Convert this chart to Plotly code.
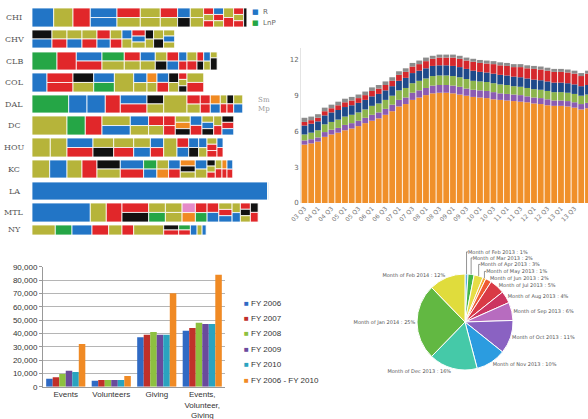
import plotly.graph_objects as go

W, H = 588, 419

# ---------------- Club roster treemaps ----------------
teams = ["CHI", "CHV", "CLB", "COL", "DAL", "DC", "HOU", "KC", "LA", "MTL", "NY"]

# each club: list of columns, each column a list of (group, amount) tiles stacked top-to-bottom
CHI = [[("B", 21.7)], [("O", 19.3)], [("R", 17.3)], [("B", 13.4), ("B", 13.3)],
       [("R", 11.7), ("O", 11.6)], [("O", 10), ("O", 10)], [("R", 8.7), ("O", 8.6)],
       [("B", 6.4), ("K", 6.3)], [("O", 6.7), ("O", 6.6)], [("R", 3.4), ("O", 3.3), ("R", 3.3)],
       [("B", 3.4), ("R", 3.3), ("O", 3.3)], [("O", 5), ("R", 5)],
       [("R", 3.4), ("O", 3.3), ("R", 3.3)], [("K", 3.3)]]
CHV = [[("K", 10), ("B", 10)], [("O", 7.5), ("R", 7.5)], [("O", 7.5), ("B", 7.5)],
       [("O", 7.5), ("R", 7.5)], [("R", 6.7), ("B", 6.6)], [("O", 5.9), ("R", 5.8)],
       [("B", 5), ("O", 5)], [("R", 4.5), ("B", 4.4), ("O", 4.4)], [("K", 4.2), ("O", 4.1)],
       [("O", 5), ("K", 5)], [("O", 3.7), ("B", 3.7), ("O", 3.6)]]
CLB = [[("G", 25)], [("R", 19.3)], [("B", 12.9), ("R", 12.8)], [("G", 11.2), ("O", 11.1)],
       [("R", 8), ("O", 8)], [("B", 7.5), ("O", 7.5)], [("O", 5.9), ("K", 5.8)],
       [("R", 5.9), ("B", 5.8)], [("B", 4.2), ("R", 4.1)], [("O", 5), ("R", 5)],
       [("R", 3.4), ("K", 3.3)], [("B", 3.4), ("O", 3.3)], [("O", 2.2), ("K", 4.5)]]
COL = [[("B", 15)], [("R", 13), ("R", 13)], [("K", 10.3), ("O", 10.4)], [("B", 10.3), ("G", 10.4)],
       [("O", 19.3)], [("B", 6.7), ("O", 6.6)], [("A", 5), ("O", 5)], [("B", 5.8), ("R", 5.9)],
       [("K", 5), ("O", 5)], [("R", 2.8), ("O", 2.8), ("K", 2.7)], [("O", 8.3), ("R", 8.4)]]
DAL = [[("G", 36.7)], [("B", 18.3)], [("B", 18.3)], [("R", 15)], [("B", 13.3), ("R", 13.4)],
       [("K", 8.3), ("O", 8.4)], [("O", 23.3)], [("R", 6.7), ("O", 6.6)], [("R", 5), ("R", 5)],
       [("A", 5), ("B", 5)], [("O", 3.3), ("R", 3.4)], [("K", 3.3), ("R", 3.4)], [("O", 4.5), ("B", 4.5)]]
DC = [[("O", 35)], [("G", 18.3)], [("R", 16.7)], [("O", 14.2), ("B", 14.1)], [("B", 9.2), ("O", 9.1)],
      [("R", 7.5), ("O", 7.5)], [("R", 5.9), ("R", 5.8)], [("O", 5), ("A", 5), ("K", 5)],
      [("B", 5.8), ("R", 5.9)], [("O", 3.9), ("B", 3.9), ("K", 3.9)], [("O", 4.2), ("R", 4.1)],
      [("K", 3.9), ("R", 3.9), ("B", 3.9)]]
HOU = [[("O", 18.3)], [("O", 16.7)], [("B", 13), ("R", 13)], [("O", 10.3), ("K", 10.4)],
       [("O", 10), ("R", 10)], [("O", 8.3), ("B", 8.4)], [("B", 6.7), ("R", 6.6)], [("O", 13.3)],
       [("R", 5.8), ("B", 5.9)], [("B", 5), ("K", 5)], [("B", 4.2), ("O", 4.1)],
       [("O", 3.3), ("R", 3.3), ("R", 3.4)], [("B", 3), ("R", 3)]]
KC = [[("O", 17.7)], [("B", 17.3)], [("O", 15)], [("R", 15)], [("K", 11.7), ("O", 11.6)],
      [("B", 11.7), ("R", 11.6)], [("G", 6.7), ("B", 6.6)], [("O", 5.9), ("A", 5.8)],
      [("B", 5.9), ("R", 5.8)], [("A", 5), ("K", 5), ("O", 5)], [("B", 5.9), ("O", 5.8)],
      [("K", 2.8), ("O", 2.8), ("R", 2.7)], [("O", 3.3), ("R", 3.4)], [("A", 2.5), ("R", 2.5)],
      [("B", 2.9), ("R", 2.8)]]
LA = [[("B", 235.5)], [("O", 0.6)], [("B", 0.6)]]
MTL = [[("B", 58.3)], [("O", 16)], [("R", 15.7)], [("R", 13.3), ("K", 13.4)], [("O", 8.3), ("G", 8.4)],
       [("O", 8.3), ("O", 8.4)], [("P", 6.7), ("A", 6.6)], [("R", 5.9), ("G", 5.8)],
       [("R", 5.8), ("B", 5.9)], [("O", 4.5), ("R", 4.4), ("B", 4.4)], [("O", 4.2), ("B", 4.1)],
       [("R", 3.3), ("K", 3.4), ("O", 3.3)], [("K", 3.8), ("R", 3.9)]]
NY = [[("O", 23.3)], [("G", 16.7)], [("B", 20)], [("R", 16.7)], [("O", 13.3)], [("R", 11.7)],
      [("O", 30)], [("K", 7.5), ("R", 7.5)], [("G", 5.8), ("R", 5.9)], [("B", 6.7)], [("O", 5)], [("B", 4)]]
rosters = [CHI, CHV, CLB, COL, DAL, DC, HOU, KC, LA, MTL, NY]

legend_groups = ["R", "LnP"]

# ---------------- Quarterly stacked bars ----------------
quarters = ["03 Q3", "03 Q4", "04 Q1", "04 Q2", "04 Q3", "04 Q4", "05 Q1", "05 Q2", "05 Q3", "05 Q4",
            "06 Q1", "06 Q2", "06 Q3", "06 Q4", "07 Q1", "07 Q2", "07 Q3", "07 Q4", "08 Q1", "08 Q2",
            "08 Q3", "08 Q4", "09 Q1", "09 Q2", "09 Q3", "09 Q4", "10 Q1", "10 Q2", "10 Q3", "10 Q4",
            "11 Q1", "11 Q2", "11 Q3", "11 Q4", "12 Q1", "12 Q2", "12 Q3", "12 Q4", "13 Q1", "13 Q2",
            "13 Q3", "13 Q4", "14 Q1"]
layer_orange = [4.9, 5.0, 5.15, 5.55, 5.75, 5.9, 6.1, 6.25, 6.45, 6.7, 6.9, 7.1, 7.4, 7.7, 8.1, 8.3,
                8.65, 8.85, 9.05, 9.2, 9.25, 9.25, 9.2, 9.1, 9.0, 8.9, 8.85, 8.8, 8.7, 8.65, 8.6, 8.55,
                8.5, 8.45, 8.35, 8.3, 8.2, 8.15, 8.15, 8.1, 8.0, 7.85, 7.95]
layer_purple = [0.35, 0.35, 0.35, 0.4, 0.4, 0.4, 0.45, 0.45, 0.45, 0.45, 0.5, 0.5, 0.5, 0.55, 0.55,
                0.55, 0.6, 0.6, 0.6, 0.65, 0.65, 0.65, 0.65, 0.65, 0.6, 0.6, 0.6, 0.6, 0.6, 0.55, 0.55,
                0.55, 0.55, 0.5, 0.5, 0.5, 0.5, 0.45, 0.45, 0.45, 0.45, 0.45, 0.45]
layer_green = [0.5, 0.55, 0.6, 0.65, 0.65, 0.7, 0.7, 0.7, 0.7, 0.7, 0.75, 0.75, 0.75, 0.75, 0.8, 0.8,
               0.8, 0.8, 0.8, 0.8, 0.8, 0.8, 0.8, 0.8, 0.8, 0.75, 0.75, 0.75, 0.75, 0.75, 0.75, 0.7,
               0.7, 0.7, 0.7, 0.7, 0.7, 0.7, 0.7, 0.7, 0.7, 0.7, 0.7]
layer_blue = [0.75, 0.75, 0.75, 0.75, 0.8, 0.8, 0.8, 0.8, 0.8, 0.8, 0.8, 0.8, 0.8, 0.8, 0.8, 0.85,
              0.85, 0.85, 0.85, 0.85, 0.85, 0.85, 0.85, 0.85, 0.85, 0.85, 0.8, 0.8, 0.8, 0.8, 0.8,
              0.8, 0.8, 0.8, 0.8, 0.8, 0.8, 0.8, 0.8, 0.8, 0.8, 0.8, 0.8]
layer_red = [0.3, 0.3, 0.3, 0.35, 0.35, 0.4, 0.4, 0.4, 0.4, 0.4, 0.45, 0.45, 0.45, 0.45, 0.5, 0.5,
             0.55, 0.55, 0.6, 0.6, 0.65, 0.65, 0.7, 0.7, 0.7, 0.75, 0.75, 0.75, 0.8, 0.8, 0.8, 0.8,
             0.85, 0.85, 0.9, 0.9, 0.9, 0.9, 0.9, 0.9, 0.9, 0.85, 0.95]
layer_gray = [0.35, 0.3, 0.3, 0.3, 0.3, 0.3, 0.3, 0.3, 0.3, 0.3, 0.3, 0.3, 0.3, 0.3, 0.3, 0.3, 0.3,
              0.3, 0.3, 0.25, 0.25, 0.25, 0.25, 0.25, 0.25, 0.25, 0.25, 0.25, 0.25, 0.25, 0.25, 0.25,
              0.25, 0.25, 0.25, 0.25, 0.25, 0.25, 0.25, 0.25, 0.25, 0.25, 0.25]

# ---------------- Fiscal-year participation columns ----------------
activities = ["Events", "Volunteers", "Giving", "Events,<br>Volunteer,<br>Giving"]
fy_names = ["FY 2006", "FY 2007", "FY 2008", "FY 2009", "FY 2010", "FY 2006 - FY 2010"]
fy_values = [
    [6000, 4500, 37000, 42000],
    [7000, 5000, 39000, 44000],
    [9500, 5000, 41000, 48000],
    [12000, 5000, 39000, 47000],
    [11000, 5000, 39000, 47000],
    [32000, 8000, 70000, 84000],
]

# ---------------- Monthly share pie ----------------
months = ["Month of Feb 2013", "Month of Mar 2013", "Month of Apr 2013", "Month of May 2013",
          "Month of Jun 2013", "Month of Jul 2013", "Month of Aug 2013", "Month of Sep 2013",
          "Month of Oct 2013", "Month of Nov 2013", "Month of Dec 2013", "Month of Jan 2014",
          "Month of Feb 2014"]
month_share = [1, 2, 3, 1, 2, 5, 4, 6, 11, 10, 16, 25, 12]

# ================= styling =================
group_colors = {"B": "#2275c6", "O": "#b6b43a", "R": "#e1272a", "G": "#25a646",
                "K": "#111111", "A": "#f08a22", "P": "#e58bc8"}
layer_colors = ["#f0902a", "#8b5cb2", "#8db54c", "#1f4a8a", "#d5282d", "#8c8c8c"]
fy_colors = ["#2f6ac4", "#c0302a", "#8dc040", "#6a4a9c", "#2aa3c0", "#f08a24"]
pie_colors = ["#5aaee0", "#44b549", "#e6dd45", "#f5a833", "#ee5a32", "#d93a45", "#cc3560",
              "#b76cbf", "#8a62c2", "#2b9ce0", "#45c9a8", "#62b842", "#e0dc3c"]

row_tops = [8, 30, 52, 73, 95, 116, 138, 160, 182, 203, 225]
row_heights = [19, 18, 18, 19, 18, 19, 19, 18, 18, 19, 10]
strip_left = 32  # px


def px_x(v):
    return v / W


def px_y(v):
    return 1 - v / H


def note(x, y, text, size, color, family="DejaVu Sans", xanchor="center"):
    return dict(x=px_x(x), y=px_y(y), xref="paper", yref="paper", text=text,
                xanchor=xanchor, yanchor="middle", showarrow=False,
                font=dict(family=family, size=size, color=color))


fig = go.Figure()
annotations = []

for t, roster, top, hgt in zip(teams, rosters, row_tops, row_heights):
    ids, parents, values, colors = [t], [""], [0], ["white"]
    total = 0
    for ci, col in enumerate(roster):
        cid = f"{t}-c{ci}"
        ids.append(cid)
        parents.append(t)
        values.append(0)
        colors.append("white")
        for ti, (grp, amt) in enumerate(col):
            ids.append(f"{cid}-t{ti}")
            parents.append(cid)
            values.append(amt)
            colors.append(group_colors[grp])
            total += amt
    fig.add_trace(go.Treemap(
        ids=ids, labels=ids, parents=parents, values=values,
        branchvalues="remainder", sort=False,
        tiling=dict(packing="slice-dice", pad=0),
        marker=dict(colors=colors, line=dict(color="white", width=0.8),
                    pad=dict(t=0, l=0, r=0, b=0), depthfade=False),
        pathbar=dict(visible=False), textinfo="none", hoverinfo="skip",
        domain=dict(x=[px_x(strip_left), px_x(strip_left + total)],
                    y=[px_y(top + hgt), px_y(top)]),
    ))
    annotations.append(note(14, top + hgt / 2, t, 8, "#555555", family="DejaVu Serif"))

# small key next to the club strips
for i, (g, key) in enumerate(zip(["B", "G"], legend_groups)):
    annotations.append(note(250, 12 + i * 11,
                            f'<span style="color:{group_colors[g]}">■</span>  <span style="color:#666">{key}</span>',
                            7, "#666666", xanchor="left"))
annotations.append(note(264, 104, "Sm<br>Mp", 7, "#999999", family="DejaVu Serif"))

# stacked quarterly bars: each layer sits on the running total of the layers below it
layers = [layer_orange, layer_purple, layer_green, layer_blue, layer_red, layer_gray]
running = [0.0] * len(quarters)
for vals, c in zip(layers, layer_colors):
    fig.add_trace(go.Bar(x=quarters, y=vals, base=list(running), offsetgroup="q",
                         marker=dict(color=c, line=dict(width=0)),
                         xaxis="x", yaxis="y", showlegend=False, hoverinfo="skip"))
    running = [r + v for r, v in zip(running, vals)]

# fiscal-year columns
for name, vals, c in zip(fy_names, fy_values, fy_colors):
    fig.add_trace(go.Bar(x=activities, y=vals, name=name, marker=dict(color=c, line=dict(width=0)),
                         xaxis="x2", yaxis="y2", showlegend=False, hoverinfo="skip"))
for i, (name, c) in enumerate(zip(fy_names, fy_colors)):
    annotations.append(note(242, 303 + i * 15.4, f'<span style="color:{c}">■</span> {name}',
                            8, "#333333", family="Liberation Sans", xanchor="left"))

# monthly pie
fig.add_trace(go.Pie(
    labels=months, values=month_share, sort=False, direction="clockwise", rotation=0,
    marker=dict(colors=pie_colors, line=dict(color="white", width=1)),
    texttemplate="%{label} : %{value}%", textposition="outside",
    textfont=dict(family="DejaVu Sans", size=5, color="#555555"),
    domain=dict(x=[px_x(417), px_x(513)], y=[px_y(370), px_y(274)]),
    showlegend=False, hoverinfo="skip",
))

tick_every = quarters[0:41:2]
bar_left = 301.1
slot = 6.75
fig.update_layout(
    template="none",
    width=W, height=H, margin=dict(l=0, r=0, t=0, b=0, autoexpand=False),
    paper_bgcolor="white", plot_bgcolor="white",
    barmode="group", bargap=0.14, bargroupgap=0,
    xaxis=dict(domain=[px_x(bar_left), 1], type="category", automargin=False,
               range=[-0.5, -0.5 + (W - bar_left) / slot],
               tickmode="array", tickvals=tick_every, ticktext=tick_every,
               tickangle=-45, tickfont=dict(family="DejaVu Sans", size=6, color="#777777"),
               showgrid=False, showline=False, ticks="", zeroline=False, anchor="y"),
    yaxis=dict(domain=[px_y(203), px_y(203 - 13 * 11.92)], range=[0, 13], automargin=False,
               tickvals=[0, 3, 6, 9, 12], showgrid=False, zeroline=False,
               showline=True, linecolor="#e4e4e4", linewidth=1, ticks="",
               tickfont=dict(family="DejaVu Sans", size=7, color="#666666"), anchor="x"),
    xaxis2=dict(domain=[px_x(43), px_x(225)], anchor="y2", showgrid=False, automargin=False,
                showline=True, linecolor="#999999", ticks="", zeroline=False,
                tickfont=dict(family="Liberation Sans", size=8, color="#333333")),
    yaxis2=dict(domain=[px_y(386.7), px_y(266.7)], range=[0, 90000], dtick=10000,
                tickformat=",", anchor="x2", showgrid=True, gridcolor="#b5b5b5", automargin=False,
                showline=True, linecolor="#999999", ticks="outside", ticklen=3,
                tickcolor="#999999", zeroline=False,
                tickfont=dict(family="Liberation Sans", size=8, color="#333333")),
    annotations=annotations,
)

fig.write_html("out.html")
